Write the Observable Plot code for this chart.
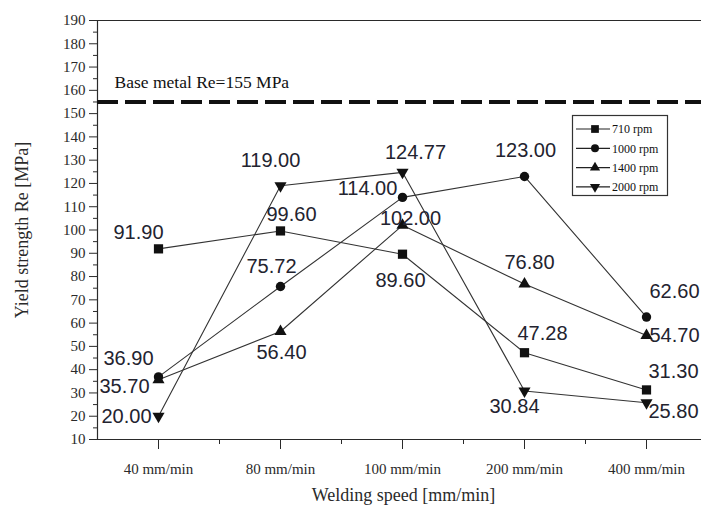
<!DOCTYPE html>
<html>
<head>
<meta charset="utf-8">
<script src="https://cdn.jsdelivr.net/npm/d3@7"></script>
<script src="https://cdn.jsdelivr.net/npm/@observablehq/plot@0.6"></script>
<style>
  html, body { margin: 0; padding: 0; background: #fff; }
  #chart { width: 701px; height: 510px; overflow: hidden; }
</style>
</head>
<body>
<div id="chart"></div>
<script>
// ---- data ----
const speeds = ["40 mm/min", "80 mm/min", "100 mm/min", "200 mm/min", "400 mm/min"];
const seriesNames = ["710 rpm", "1000 rpm", "1400 rpm", "2000 rpm"];
const re710  = [91.90, 99.60, 89.60, 47.28, 31.30];
const re1000 = [36.90, 75.72, 114.00, 123.00, 62.60];
const re1400 = [35.70, 56.40, 102.00, 76.80, 54.70];
const re2000 = [20.00, 119.00, 124.77, 30.84, 25.80];
const baseMetalRe = 155;
const baseMetalLabel = "Base metal Re=155 MPa";
const yMajorTicks = [10, 20, 30, 40, 50, 60, 70, 80, 90, 100, 110, 120, 130, 140, 150, 160, 170, 180, 190];
const xTitle = "Welding speed [mm/min]";
const yTitle = "Yield strength Re [MPa]";

// ---- layout: label offsets in pixels (per series, per speed) ----
const labelDx = [
  [-20, 11, -2, 18, 27],
  [-30, -9, -35, 1, 28],
  [-34, 1, 8, 5, 28],
  [-32, -10, 13, -10, 27]
];
const labelDy = [
  [-16, -16, 26, -19, -18],
  [-18, -20, -9, -26, -25],
  [7, 21, -7, -21, 0],
  [0, -25, -20, 16, 9]
];

const triangleDown = {
  draw(context, size) {
    const y = Math.sqrt(size / (Math.sqrt(3) * 3));
    context.moveTo(0, y * 2);
    context.lineTo(-Math.sqrt(3) * y, -y);
    context.lineTo(Math.sqrt(3) * y, -y);
    context.closePath();
  }
};

const seriesValues = [re710, re1000, re1400, re2000];
const symbols = ["square", "circle", "triangle", triangleDown];
const radii = [5.2, 4.7, 4.5, 4.5];

const rows = seriesValues.map((vals, s) => vals.map((v, i) => ({series: seriesNames[s], s, i, v})));

const ink = "#2a2a2a";
const labelInk = "#23232f";

const marks = [
  // frame lines
  Plot.ruleY([190], {stroke: ink, strokeWidth: 1.2}),
  Plot.ruleY([10], {stroke: ink, strokeWidth: 1.2}),
  Plot.ruleX([-0.5], {stroke: ink, strokeWidth: 1.2}),
  // axes
  Plot.axisY(yMajorTicks, {tickSize: 8, tickPadding: 4, label: null, fontSize: 15, stroke: ink}),
  Plot.axisY(yMajorTicks.slice(0, -1).map(t => t + 5), {tickSize: 4, tickFormat: () => "", label: null, stroke: ink}),
  Plot.axisX(speeds.map((d, i) => i), {tickSize: 10, tickPadding: 14, tickFormat: i => speeds[i], label: null, fontSize: 15, stroke: ink}),
  Plot.axisX(speeds.slice(1).map((d, i) => i + 0.5), {tickSize: 5, tickFormat: () => "", label: null, stroke: ink}),
  // base metal line
  Plot.ruleY([baseMetalRe], {stroke: "#111", strokeWidth: 4, strokeDasharray: "21,7"}),
  Plot.text([baseMetalLabel], {x: -0.5, y: baseMetalRe, text: d => d, textAnchor: "start", dx: 17, dy: -20, fontSize: 17.5, fill: "#111"}),
  // axis titles
  Plot.text([yTitle], {text: d => d, frameAnchor: "left", textAnchor: "middle", lineAnchor: "middle", dx: -75, rotate: -90, fontSize: 18, fill: ink}),
  Plot.text([xTitle], {text: d => d, frameAnchor: "bottom", textAnchor: "middle", lineAnchor: "middle", dx: 4, dy: 56, fontSize: 18, fill: ink})
];

rows.forEach((r, s) => {
  marks.push(Plot.line(r, {x: "i", y: "v", stroke: "#333", strokeWidth: 1.1}));
});
rows.forEach((r, s) => {
  marks.push(Plot.dot(r, {x: "i", y: "v", symbol: symbols[s], r: radii[s], fill: "#111", stroke: "none"}));
});
rows.forEach((r, s) => {
  r.forEach((d, i) => {
    marks.push(Plot.text([d], {
      x: "i", y: "v", text: d => d.v.toFixed(2),
      dx: labelDx[s][i], dy: labelDy[s][i],
      fontSize: 20, fontFamily: "Liberation Sans, Arial, sans-serif", fill: labelInk
    }));
  });
});

const svg = Plot.plot({
  width: 701,
  height: 510,
  marginTop: 20,
  marginBottom: 71,
  marginLeft: 97,
  marginRight: 0,
  x: {domain: [-0.5, 4.5], range: [97, 707]},
  y: {domain: [10, 190]},
  style: {fontFamily: "Liberation Serif, Times New Roman, serif", fontSize: "15px", color: ink, background: "white", overflow: "hidden"},
  marks
});

// legend inside the plot area
const g = d3.select(svg).append("g")
  .attr("font-family", "Liberation Serif, Times New Roman, serif")
  .attr("font-size", 12)
  .attr("text-anchor", "start");
g.append("rect").attr("x", 572.5).attr("y", 115.5).attr("width", 95).attr("height", 80)
  .attr("fill", "white").attr("stroke", "#333").attr("stroke-width", 1.2);
const d3symbols = [d3.symbolSquare, d3.symbolCircle, d3.symbolTriangle, triangleDown];
const legendSizes = [60, 50, 45, 45];
seriesNames.forEach((name, k) => {
  const yy = 129 + k * 19.3;
  g.append("line").attr("x1", 576).attr("x2", 610).attr("y1", yy).attr("y2", yy).attr("stroke", "#222").attr("stroke-width", 1.2);
  g.append("path").attr("d", d3.symbol(d3symbols[k], legendSizes[k])()).attr("transform", `translate(595,${yy})`).attr("fill", "#111");
  g.append("text").attr("x", 612).attr("y", yy).attr("dy", "0.35em").attr("text-anchor", "start").attr("fill", "#111").text(name);
});

document.getElementById("chart").appendChild(svg);
</script>
</body>
</html>
